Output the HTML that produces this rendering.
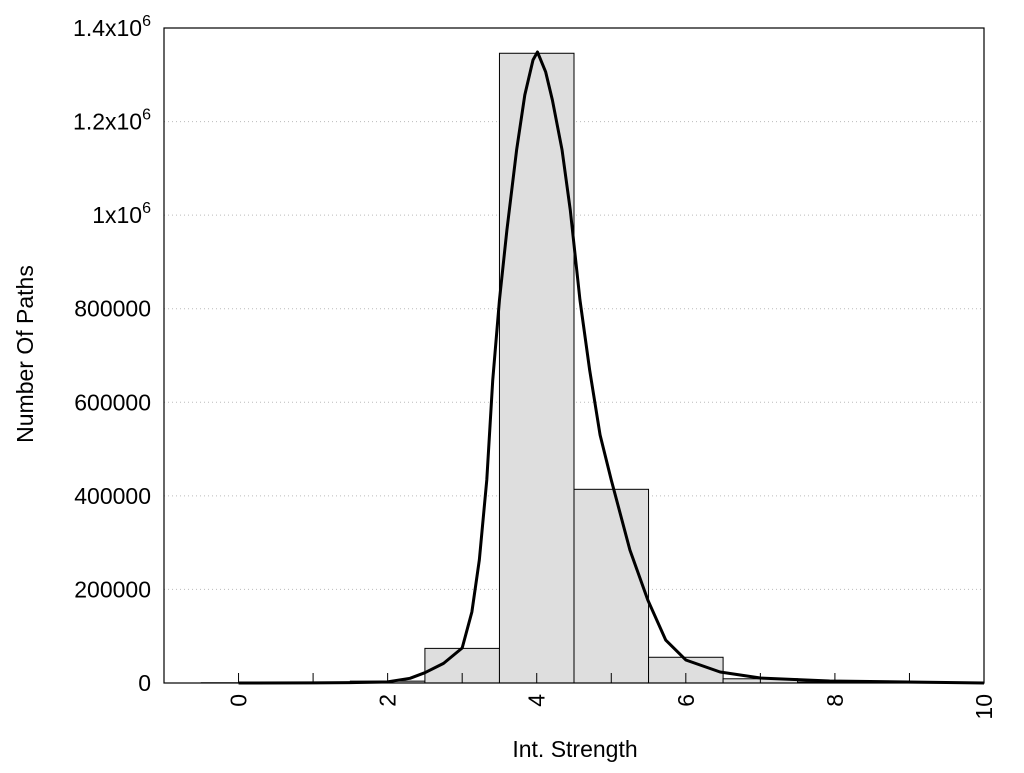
<!DOCTYPE html>
<html><head><meta charset="utf-8"><style>
body{margin:0;background:#fff;}
svg text{font-family:"Liberation Sans",Arial,sans-serif;fill:#000;}
</style></head><body>
<svg id="c" width="1024" height="768"></svg>
<script>
const binCenters=[0,1,2,3,4,5,6,7,8,9,10];
const binCounts=[500,500,4000,74000,1346000,414000,55000,9000,2000,1000,0];
const curveX=[0,1,1.5,2,2.3,2.5,2.75,3,3.13,3.23,3.33,3.41,3.5,3.6,3.73,3.84,3.95,4.01,4.12,4.21,4.34,4.45,4.58,4.71,4.85,5,5.25,5.49,5.73,6,6.46,7,7.93,10];
const curveY=[0,300,800,2500,10000,22000,42000,74800,151800,262900,433900,647600,818600,968200,1139200,1256800,1331600,1348700,1306000,1246100,1139200,1011000,818600,669000,530100,433900,284300,177400,91900,49200,23500,10700,4300,0];
const yTicks=[0,200000,400000,600000,800000,1000000,1200000,1400000];
const yTickLabels=["0","200000","400000","600000","800000","1x10^6","1.2x10^6","1.4x10^6"];
const xTicks=[0,1,2,3,4,5,6,7,8,9,10];
const xTickLabels=["0","2","4","6","8","10"];
const xLabelVals=[0,2,4,6,8,10];

const L=164,R=984,T=28,B=683;
const xs=v=>L+(v+1)/11*(R-L);
const ys=v=>B-v/1400000*(B-T);
const svg=document.getElementById('c');
const NS='http://www.w3.org/2000/svg';
function mk(t,a){const e=document.createElementNS(NS,t);for(const k in a)e.setAttribute(k,a[k]);svg.appendChild(e);return e;}

yTicks.forEach((v,i)=>{
 if(v>0&&v<1400000){const g=mk('line',{x1:L,x2:R,y1:ys(v),y2:ys(v),stroke:'#bbb','stroke-dasharray':'1,3','stroke-width':1});
 
 }
 const t=mk('text',{x:L-13,y:ys(v)+8,'text-anchor':'end','font-size':23});
 
 
 const lab=yTickLabels[i];
 if(lab.indexOf('^')>=0){const p=lab.split('^');t.textContent=p[0];const s=document.createElementNS(NS,'tspan');s.setAttribute('dy','-10');s.setAttribute('font-size','16');s.textContent=p[1];t.appendChild(s);}
 else t.textContent=lab;
});

binCenters.forEach((c,i)=>{
 if(binCounts[i]<=0)return;
 const r=mk('rect',{x:xs(c-0.5),y:ys(binCounts[i]),width:xs(c+0.5)-xs(c-0.5),height:B-ys(binCounts[i]),fill:'#dedede',stroke:'#000','stroke-width':1});
 
 
});

mk('rect',{x:L,y:T,width:R-L,height:B-T,fill:'none',stroke:'#000','stroke-width':1.2});

xTicks.forEach(v=>{const l=mk('line',{x1:xs(v),x2:xs(v),y1:B,y2:B-10,stroke:'#000','stroke-width':1});
 
 });
xLabelVals.forEach((v,i)=>{const t=mk('text',{transform:`translate(${xs(v)+8},${B+11}) rotate(-90)`,'text-anchor':'end','font-size':23});
 t.textContent=xTickLabels[i];
 
 });

const pts=curveX.map((x,i)=>xs(x)+','+ys(curveY[i])).join(' ');
const pl=mk('polyline',{points:pts,fill:'none',stroke:'#000','stroke-width':3,'stroke-linejoin':'round'});



const xt=mk('text',{x:575,y:757,'text-anchor':'middle','font-size':23});xt.textContent='Int. Strength';


const yt=mk('text',{transform:'translate(33,354) rotate(-90)','text-anchor':'middle','font-size':23});yt.textContent='Number Of Paths';


</script>
</body></html>
